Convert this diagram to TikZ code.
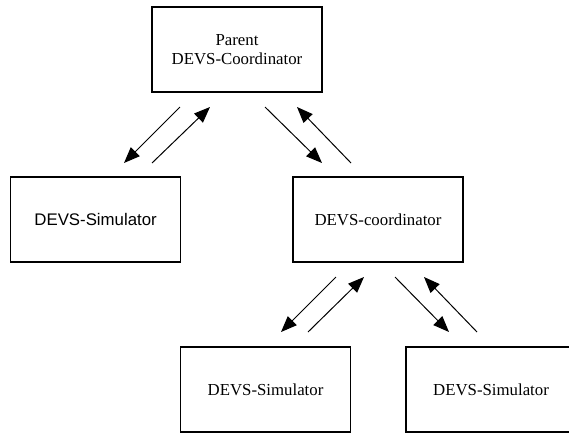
\documentclass[tikz,border=0pt]{standalone}
\usepackage{fontspec}
\setmainfont{Liberation Serif}
\newfontfamily\arialfont{Liberation Sans}
\usepackage{tikz}
\usetikzlibrary{arrows.meta, positioning}

\begin{document}
\begin{tikzpicture}[x=1pt, y=-1pt, node distance=170pt]
%
% Skiss:
%              Parent DEVS-Coordinator
%               /^              \v
%   DEVS-Simulator         DEVS-coordinator
%                           /^          \v
%                 DEVS-Simulator    DEVS-Simulator
%
\tikzstyle{devsbox} = [rectangle, minimum width=170pt, minimum height=85pt, text centered, draw=black, line width=1.2pt, align=center, font=\fontsize{16.8}{19.5}\selectfont]
\tikzstyle{arrow} = [line width=1pt, -{Triangle[length=16pt, width=12.5pt]}]
\useasboundingbox (0,0) rectangle (569,432);
% Nodes
\node (parent) [devsbox] at (237,49.5) {Parent\\DEVS-Coordinator};
\node (simLeft) [devsbox, below of=parent, xshift=-141.4pt, font=\arialfont\fontsize{16.8}{19.5}\selectfont] {DEVS-Simulator};
\node (coord) [devsbox, below of=parent, xshift=141pt] {DEVS-coordinator};
\node (simBotL) [devsbox, below of=coord, xshift=-112.5pt] {DEVS-Simulator};
\node (simBotR) [devsbox, below of=coord, xshift=113pt] {DEVS-Simulator};

% Arrow end points (free-standing arrows)
\coordinate (pdA) at (180,107); \coordinate (slA) at (124,163);
\coordinate (slB) at (152,163); \coordinate (puB) at (210,107);
\coordinate (pdC) at (265,107); \coordinate (cdC) at (322,163);
\coordinate (cuD) at (351,163); \coordinate (puD) at (297,107);
\coordinate (cdE) at (336,277); \coordinate (blE) at (281,332);
\coordinate (blF) at (308,332); \coordinate (cuF) at (364,277);
\coordinate (cdG) at (395,277); \coordinate (brG) at (449,332);
\coordinate (brH) at (477,332); \coordinate (cuH) at (424,277);

% Arrows
\draw [arrow] (pdA) -- (slA);
\draw [arrow] (slB) -- (puB);
\draw [arrow] (pdC) -- (cdC);
\draw [arrow] (cuD) -- (puD);
\draw [arrow] (cdE) -- (blE);
\draw [arrow] (blF) -- (cuF);
\draw [arrow] (cdG) -- (brG);
\draw [arrow] (brH) -- (cuH);

\end{tikzpicture}
\end{document}
